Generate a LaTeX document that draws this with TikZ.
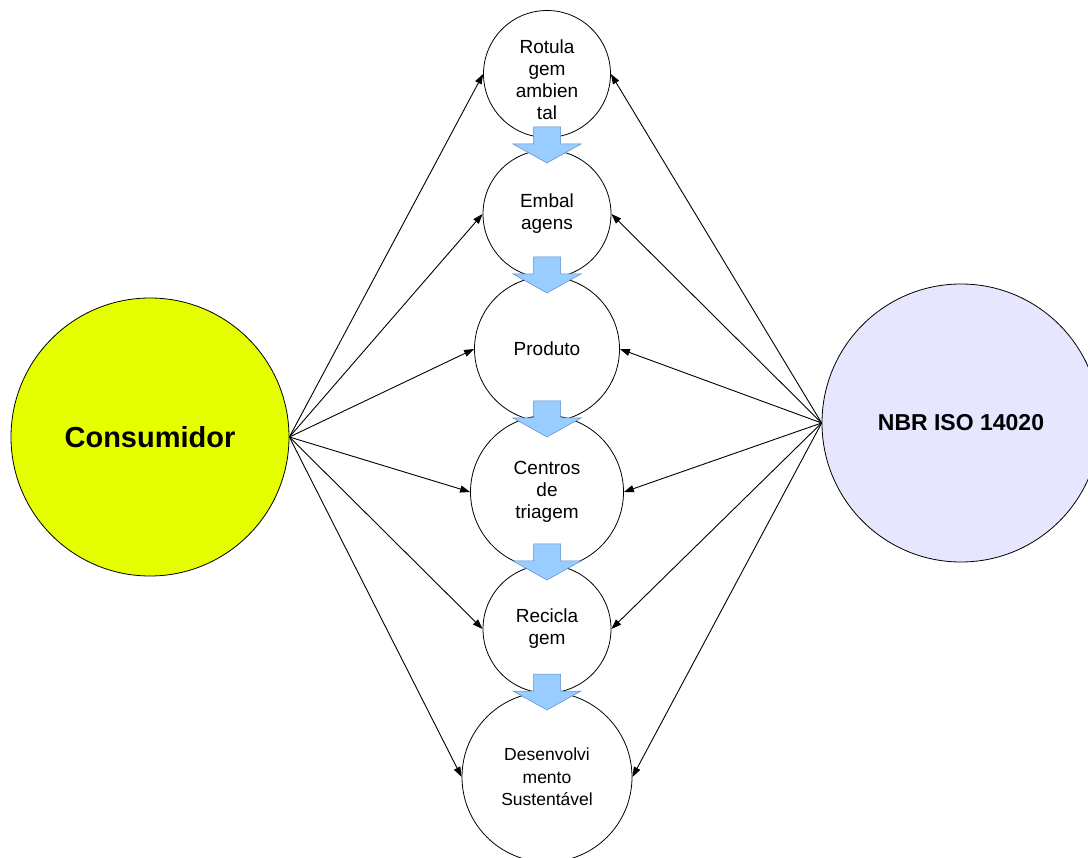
\documentclass[tikz,border=0pt]{standalone}
\usepackage{fontspec}
\setmainfont{Liberation Sans}
\usetikzlibrary{arrows.meta}
\definecolor{consyellow}{RGB}{230,255,0}
\definecolor{isolav}{RGB}{230,230,255}
\definecolor{arrfill}{RGB}{153,204,255}
\definecolor{arredge}{RGB}{90,140,200}
\tikzset{
  stage/.style={draw=black, line width=0.8pt, circle, inner sep=0pt, fill=white,
    align=center, font=\fontsize{19}{22}\selectfont},
  bigc/.style={draw=black, line width=0.8pt, circle, inner sep=0pt, minimum size=278pt},
  conn/.style={line width=0.9pt, -{Triangle[length=10pt,width=7pt]}},
  flow/.style={fill=arrfill, draw=arredge, line width=0.5pt},
  pics/downarrow/.style={code={
    \path[flow] (-13.5,0) -- (13.5,0) -- (13.5,17) -- (34,17) -- (0,36) -- (-34,17) -- (-13.5,17) -- cycle;
  }}
}
\begin{document}
\begin{tikzpicture}[x=1pt,y=-1pt]
\useasboundingbox (0,0) rectangle (1088,858);
\begin{scope}
\clip (0,0) rectangle (1088,858);
\node[bigc, fill=consyellow, font=\fontsize{29}{34}\selectfont\bfseries] (cons) at (150,437) {Consumidor};
\node[bigc, fill=isolav, font=\fontsize{23}{27}\selectfont\bfseries] (iso) at (961,423) {NBR ISO 14020};

\node[stage, minimum size=127pt] (rot) at (547,74) {};
\node[font=\fontsize{19}{22}\selectfont, align=center] (rottxt) at (547,80) {Rotula\\gem\\ambien\\tal};
\node[stage, minimum size=128pt] (emb) at (547,214) {Embal\\agens};
\node[stage, minimum size=145pt] (prod) at (547,349) {Produto};
\node[stage, minimum size=153pt] (cen) at (547,492) {Centros\\de\\triagem};
\node[stage, minimum size=128pt] (rec) at (547,629) {Recicla\\gem};
\node[stage, minimum size=170pt, font=\fontsize{17.5}{22.5}\selectfont] (des) at (547,777) {Desenvolvi\\mento\\Sustentável};
\end{scope}

\foreach \t in {rot,emb,prod,cen,rec,des} {
  \draw[conn] (cons.east) -- (\t.west);
  \draw[conn] (iso.west) -- (\t.east);
}

\pic at (547,127) {downarrow};
\pic at (547,257) {downarrow};
\pic at (547,401) {downarrow};
\pic at (547,544) {downarrow};
\pic at (547,674) {downarrow};
\end{tikzpicture}
\end{document}
